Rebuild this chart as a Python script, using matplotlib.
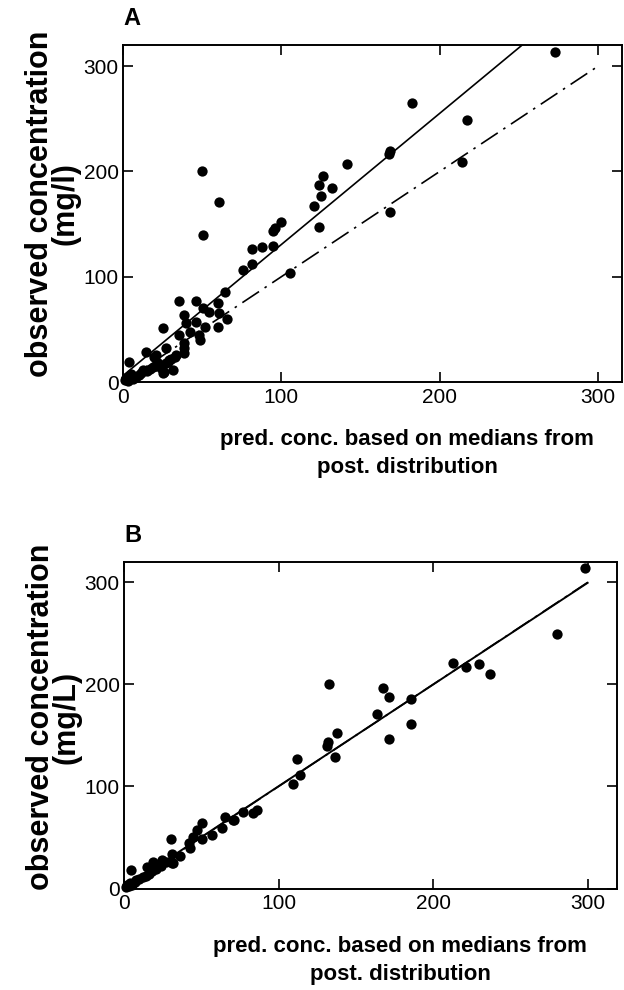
import matplotlib
matplotlib.use("Agg")
import matplotlib.pyplot as plt
import numpy as np

plt.rcParams['font.family'] = ['Liberation Sans', 'DejaVu Sans']

# Panel A: predicted (medians of posterior) vs observed
a_pred = [273, 182.3, 217, 168.5, 168.2, 141.5, 213.9, 126, 123.8, 132, 125.3, 120.4,
          123.6, 168.5, 49.6, 60.3, 50.2, 100, 95.8, 94.4, 94.4, 88, 81.6, 81.6, 75.7,
          105.3, 64.6, 35.2, 46.2, 59.9, 50.4, 54.6, 60.5, 38.8, 46.2, 65.6, 59.9, 51.5,
          39.9, 25.1, 35.6, 42, 47.9, 48.3, 38.8, 38.8, 38.8, 27.2, 29.3, 14.6, 20.9,
          25.1, 18.8, 12.4, 31.4, 27.2, 33.5, 26.1, 28.3, 19.8, 11.4, 3.5, 1.9,
          1, 2, 3, 4, 6, 8, 5, 10, 15, 17, 20, 22, 24, 30, 33]
a_obs = [313, 264.7, 248.8, 219.7, 216.2, 207, 209.2, 195.6, 187, 184.5, 177, 167,
         146.9, 161, 200, 171, 139.9, 151.6, 146.6, 143.4, 129.5, 128.2, 126.3, 111.8, 106.4,
         103.2, 85.5, 77.2, 77.2, 74.7, 70, 66.8, 65.2, 63.6, 57.3, 59.5, 52.5, 52.5,
         55.7, 51.6, 44.6, 47.8, 44.6, 39.9, 36.7, 27.2, 32, 32, 20.9, 28.5, 25.6,
         8.2, 14.5, 11.4, 11.4, 17.7, 25.6, 9.8, 19.3, 24, 8.4, 19.3, 3.5,
         2, 4, 1, 6, 3, 5, 8, 7, 10, 12, 15, 18, 13, 22, 24]

# Panel B: predicted vs observed
b_pred = [298.4, 280, 213.2, 221.4, 229.8, 236.5, 132.9, 167.8, 171.7, 185.8, 164, 185.6,
          171.6, 138, 131.8, 131.2, 136.6, 112, 114.1, 109.2, 85.9, 83.7, 77.2, 71.2,
          65.4, 63.2, 56.8, 50.5, 47, 50.3, 44.9, 42.3, 42.7, 30.4, 36.2, 30.8, 30.8,
          24.4, 19, 19, 70.8, 31.9, 14.7, 4.5,
          1, 2, 3, 4, 5, 7, 8, 10, 12, 14, 16, 18, 21, 24, 27]
b_obs = [314.5, 249.5, 220.8, 217.5, 219.8, 210, 200.5, 196.3, 188, 185.5, 171, 161.3,
         146.9, 152.7, 143.9, 139.7, 129.2, 126.6, 111.3, 102.5, 77, 74.3, 75.3, 67.2,
         69.8, 59, 52.5, 64.5, 57.4, 48.2, 50.8, 44.3, 39.4, 48.2, 31.9, 33.8, 24.7,
         27.9, 26.3, 21.4, 67, 24.6, 21.4, 18.3,
         1, 3, 2, 5, 3, 6, 8, 9, 11, 12, 14, 17, 19, 22, 26]

# Fitted regression lines (intercept, slope) and identity
a_fit = (6.0, 1.246)
b_fit = (0.5, 0.997)
ticks = [0, 100, 200, 300]

W, H = 624, 990
fig = plt.figure(figsize=(W / 100, H / 100), dpi=100)

def px_axes(l, r, t, b):
    return fig.add_axes([l / W, 1 - b / H, (r - l) / W, (b - t) / H])

axA = px_axes(123, 622, 45, 382)
axB = px_axes(124, 617, 562, 888.5)

def style(ax, ylab, label, xmax, xlab_x, xlab_y, ylab_y):
    ax.set_xlim(0, xmax)
    ax.set_ylim(0, 320)
    ax.set_xticks(ticks)
    ax.set_yticks(ticks)
    ax.tick_params(direction='in', length=7.5, width=1.2, top=True, right=True,
                   labelsize=15)
    ax.tick_params(axis='x', pad=4)
    ax.tick_params(axis='y', pad=3)
    for s in ax.spines.values():
        s.set_linewidth(1.4)
    ax.set_xlabel('pred. conc. based on medians from\npost. distribution',
                  fontsize=16, fontweight='bold', linespacing=1.45)
    ax.xaxis.set_label_coords(xlab_x, xlab_y, transform=ax.transAxes)
    ax.xaxis.label.set_va('top')
    ax.set_ylabel('observed concentration\n' + ylab, fontsize=22,
                  fontweight='bold', linespacing=0.8)
    ax.yaxis.set_label_coords(-0.086, ylab_y, transform=ax.transAxes)
    ax.text(0.0, 1.045, label, transform=ax.transAxes, fontsize=17,
            fontweight='bold', ha='left', va='bottom')

xs = np.array([0, 300])
dashdot = (0, (12, 4, 1.5, 4))
axA.plot(xs, xs, color='black', lw=1.2, linestyle=dashdot, zorder=2)
xf = np.array([0, 300])
axA.plot(xf, a_fit[0] + a_fit[1] * xf, color='black', lw=1.2, zorder=2)
axA.scatter(a_pred, a_obs, s=55, color='black', zorder=3, clip_on=False, linewidths=0)
style(axA, '(mg/l)', 'A', 315, 0.57, -0.14, 0.53)

axB.plot(xs, xs, color='black', lw=1.2, linestyle=dashdot, zorder=2)
axB.plot(xf, b_fit[0] + b_fit[1] * xf, color='black', lw=1.4, zorder=2)
axB.scatter(b_pred, b_obs, s=55, color='black', zorder=3, clip_on=False, linewidths=0)
style(axB, '(mg/L)', 'B', 319, 0.56, -0.146, 0.525)

fig.savefig('out.png', dpi=100)
